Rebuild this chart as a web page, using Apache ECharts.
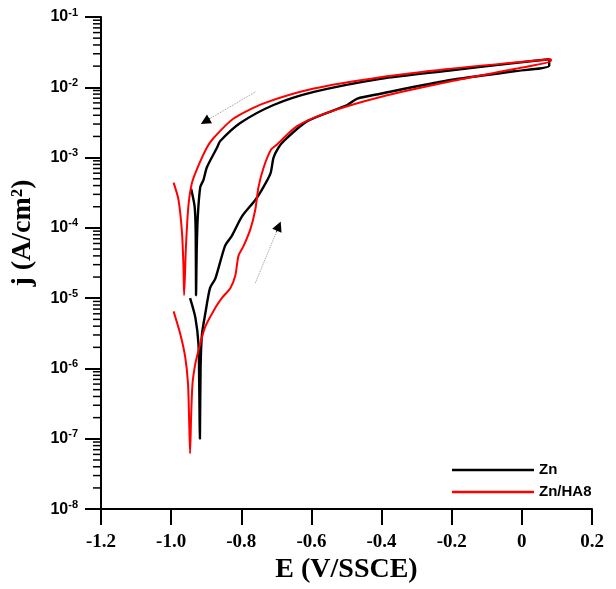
<!DOCTYPE html>
<html>
<head>
<meta charset="utf-8">
<script src="https://cdn.jsdelivr.net/npm/echarts@6/dist/echarts.min.js"></script>
<style>
  html, body { margin: 0; padding: 0; background: #fff; }
  #chart { width: 616px; height: 589px; }
</style>
</head>
<body>
<div id="chart"></div>
<script>
// Zn : forward scan (cathodic -> Ecorr -> anodic), then reverse scan back
const znE = [-0.946, -0.931, -0.922, -0.920, -0.918, -0.916, -0.912, -0.903, -0.889, -0.874,
  -0.846, -0.827, -0.798, -0.760, -0.741, -0.717, -0.708, -0.694, -0.679, -0.612,
  -0.498, -0.469, -0.403, -0.212, -0.022, 0.078,
  0.078, -0.022, -0.212, -0.403, -0.593, -0.708, -0.803, -0.860, -0.869, -0.898,
  -0.908, -0.917, -0.924, -0.927, -0.929, -0.930, -0.933, -0.943]
const znJ = [1.0e-5, 5.3e-6, 2.2e-6, 6.2e-7, 1.0e-7, 1.07e-6, 3.1e-6, 5.9e-6, 1.4e-5, 1.9e-5,
  5.6e-5, 7.7e-5, 1.46e-4, 2.5e-4, 3.5e-4, 5.9e-4, 1.0e-3, 1.39e-3, 1.72e-3, 3.3e-3,
  5.6e-3, 6.9e-3, 8.1e-3, 1.25e-2, 1.69e-2, 2.02e-2,
  2.51e-2, 2.21e-2, 1.72e-2, 1.32e-2, 8.6e-3, 5.6e-3, 3.1e-3, 1.72e-3, 1.39e-3, 7.3e-4,
  4.8e-4, 3.8e-4, 1.46e-4, 5.1e-5, 1.1e-5, 8.5e-5, 2.0e-4, 3.6e-4]

// Zn/HA8
const haE = [-0.993, -0.974, -0.960, -0.952, -0.949, -0.946, -0.943, -0.939, -0.931, -0.922,
  -0.903, -0.874, -0.855, -0.831, -0.817, -0.808, -0.793, -0.774, -0.760, -0.751,
  -0.736, -0.715, -0.698, -0.641, -0.546, -0.403, -0.212, -0.022, 0.083,
  0.083, -0.022, -0.212, -0.403, -0.593, -0.736, -0.822, -0.879, -0.898, -0.924,
  -0.941, -0.951, -0.958, -0.963, -0.965, -0.969, -0.979, -0.993]
const haJ = [6.5e-6, 3.1e-6, 1.47e-6, 6.2e-7, 2.1e-7, 6.2e-8, 2.1e-7, 6.2e-7, 1.17e-6, 1.8e-6,
  3.9e-6, 7.3e-6, 1.01e-5, 1.4e-5, 2.1e-5, 4.0e-5, 5.6e-5, 9.6e-5, 1.83e-4, 3.8e-4,
  7.3e-4, 1.3e-3, 1.54e-3, 2.8e-3, 4.5e-3, 7.3e-3, 1.19e-2, 1.82e-2, 2.38e-2,
  2.51e-2, 2.25e-2, 1.82e-2, 1.39e-2, 9.6e-3, 5.9e-3, 3.6e-3, 1.9e-3, 1.39e-3, 7.3e-4,
  4.3e-4, 2.0e-4, 5.1e-5, 1.1e-5, 2.9e-5, 8.5e-5, 2.5e-4, 4.4e-4]

// scan direction arrows [E, j] start -> tip
const arrowRev = [[-0.760, 8.6e-3], [-0.903, 3.27e-3]]
const arrowFwd = [[-0.760, 1.64e-5], [-0.693, 1.06e-4]]

// minor log ticks (2..9 per decade)
const minorTickVals = []
for (let p = -8; p <= -2; p++) {
  for (let k = 2; k <= 9; k++) minorTickVals.push(k * Math.pow(10, p))
}

const serif = '"Liberation Serif", "Times New Roman", serif'
const sans = '"Liberation Sans", Arial, sans-serif'

function pairs(xs, ys) {
  return xs.map((x, i) => [x, ys[i]])
}

function arrowLine(a) {
  // dotted shaft plus a short solid piece carrying the black head
  const near = [a[0][0] + (a[1][0] - a[0][0]) * 0.9, Math.pow(10, Math.log10(a[0][1]) + (Math.log10(a[1][1]) - Math.log10(a[0][1])) * 0.9)]
  return [
    [{ coord: a[0], symbol: 'none' }, { coord: a[1], symbol: 'none', lineStyle: { color: '#9a9a9a', type: 'dotted', width: 1 } }],
    [{ coord: near, symbol: 'none' }, { coord: a[1], symbol: 'triangle', lineStyle: { color: '#000', width: 1 } }],
  ]
}

let myChart = echarts.init(document.getElementById('chart'))
var option = {
  animation: false,
  backgroundColor: '#fff',
  grid: { left: 101, right: 24, top: 17, bottom: 71 },
  legend: {
    orient: 'vertical',
    left: 447,
    top: 457,
    icon: 'rect',
    itemWidth: 82,
    itemHeight: 2.5,
    itemGap: 6,
    data: ['Zn', 'Zn/HA8'],
    textStyle: { fontFamily: sans, fontWeight: 'bold', fontSize: 15, color: '#000', lineHeight: 16 },
  },
  xAxis: {
    type: 'value',
    min: -1.2,
    max: 0.2,
    interval: 0.2,
    name: 'E (V/SSCE)',
    nameLocation: 'middle',
    nameGap: 46,
    nameTextStyle: { fontFamily: serif, fontWeight: 'bold', fontSize: 28, color: '#000' },
    axisLine: { onZero: false, lineStyle: { color: '#000', width: 2 } },
    axisTick: { length: 16, lineStyle: { color: '#000', width: 2 } },
    axisLabel: {
      margin: 23,
      fontFamily: serif,
      fontWeight: 'bold',
      fontSize: 19,
      color: '#000',
      formatter: (v) => (Math.abs(v) < 1e-9 ? '0' : v.toFixed(1)),
    },
    splitLine: { show: false },
  },
  yAxis: {
    type: 'log',
    logBase: 10,
    min: 1e-8,
    max: 1e-1,
    name: 'j (A/cm²)',
    nameLocation: 'middle',
    nameRotate: 90,
    nameGap: 64,
    nameTextStyle: { fontFamily: serif, fontWeight: 'bold', fontSize: 28, color: '#000', padding: [0, 0, 0, 60] },
    axisLine: { show: true, onZero: false, lineStyle: { color: '#000', width: 2 } },
    axisTick: { length: 16, lineStyle: { color: '#000', width: 2 } },
    axisLabel: {
      margin: 23,
      formatter: (v) => '{b|10}{s|' + Math.round(Math.log10(v)) + '}',
      rich: {
        b: { fontFamily: sans, fontWeight: 'bold', fontSize: 16, color: '#000' },
        s: { fontFamily: sans, fontWeight: 'bold', fontSize: 11, color: '#000', padding: [0, 0, 9, 0] },
      },
    },
    splitLine: { show: false },
  },
  series: [
    {
      name: 'Zn',
      type: 'line',
      symbol: 'none',
      smooth: 0.25,
      data: pairs(znE, znJ),
      lineStyle: { color: '#000', width: 2.4 },
      itemStyle: { color: '#000' },
      markLine: {
        silent: true,
        symbolSize: 10,
        label: { show: false },
        data: arrowLine(arrowRev).concat(arrowLine(arrowFwd)),
      },
    },
    {
      name: 'Zn/HA8',
      type: 'line',
      symbol: 'none',
      smooth: 0.25,
      data: pairs(haE, haJ),
      lineStyle: { color: '#ff0000', width: 2 },
      itemStyle: { color: '#ff0000' },
    },
    {
      type: 'custom',
      silent: true,
      clip: false,
      data: minorTickVals,
      encode: { y: 0 },
      renderItem: (params, api) => {
        const pt = api.coord([-1.2, api.value(0)])
        return {
          type: 'line',
          shape: { x1: pt[0] - 8, y1: pt[1], x2: pt[0], y2: pt[1] },
          style: { stroke: '#000', lineWidth: 1.5 },
        }
      },
    },
  ],
}
myChart.setOption(option)
</script>
</body>
</html>
